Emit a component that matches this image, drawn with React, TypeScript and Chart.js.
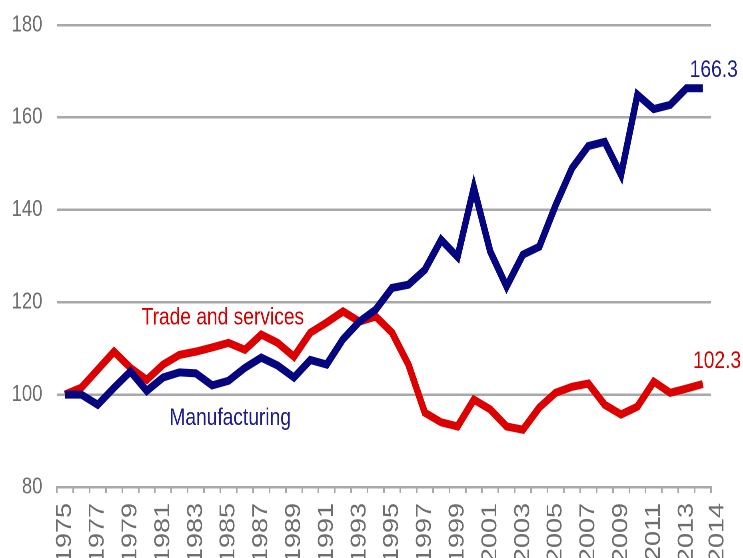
import React, { useEffect, useRef } from 'react';
import { Chart, registerables } from 'chart.js';

Chart.register(...registerables);

// ---- data ----
const years = [
  '1975', '1976', '1977', '1978', '1979', '1980', '1981', '1982', '1983', '1984',
  '1985', '1986', '1987', '1988', '1989', '1990', '1991', '1992', '1993', '1994',
  '1995', '1996', '1997', '1998', '1999', '2000', '2001', '2002', '2003', '2004',
  '2005', '2006', '2007', '2008', '2009', '2010', '2011', '2012', '2013', '2014',
];

const manufacturing = [
  100, 100, 97.8, 101.5, 105, 100.8, 103.7, 104.8, 104.6, 102,
  103, 105.8, 108, 106.3, 103.7, 107.5, 106.5, 112, 115.8, 118.4,
  123.1, 123.8, 127, 133.5, 129.8, 144.8, 131, 123.4, 130.3, 132,
  141, 149, 153.8, 154.7, 147.6, 164.9, 161.8, 162.7, 166.3, 166.3,
];

const tradeServices = [
  100, 101.5, 105.4, 109.3, 105.8, 103.2, 106.5, 108.6, 109.3, 110.2,
  111.2, 109.7, 113, 111.2, 108.2, 113.4, 115.6, 118, 115.8, 116.9,
  113.4, 106.5, 96.1, 94, 93.1, 98.9, 96.8, 93.1, 92.4, 97.2,
  100.4, 101.7, 102.4, 97.8, 95.7, 97.4, 102.8, 100.4, 101.3, 102.3,
];

const seriesNames = ['Manufacturing', 'Trade and services'];
const endLabels = ['166.3', '102.3'];
const yMin = 80;
const yMax = 180;
const yStep = 20;

// ---- style ----
const BLUE = '#050580';
const RED = '#dd0000';
const BLUE_TEXT = '#1c1c8e';
const RED_TEXT = '#d40000';
const GRID = '#a8a8a8';
const TICK_TEXT = '#6e6e6e';
const FONT = '"Liberation Sans", Arial, Helvetica, sans-serif';

// chart is drawn wider and squeezed horizontally, like the reference
const W = 929;
const H = 558;
const DISPLAY_W = 743;

const annotations = [
  { text: seriesNames[1], index: 9.65, value: 116.6, color: RED_TEXT, align: 'center' as CanvasTextAlign },
  { text: seriesNames[0], index: 10.1, value: 94.8, color: BLUE_TEXT, align: 'center' as CanvasTextAlign },
  { text: endLabels[0], index: 38.2, value: 170.2, color: BLUE_TEXT, align: 'left' as CanvasTextAlign },
  { text: endLabels[1], index: 38.4, value: 107.2, color: RED_TEXT, align: 'left' as CanvasTextAlign },
];

const annotationPlugin = {
  id: 'annotationsText',
  afterDatasetsDraw(chart: any) {
    const { ctx, scales } = chart;
    const xs = scales.x;
    const ys = scales.y;
    ctx.save();
    ctx.font = `24px ${FONT}`;
    ctx.textBaseline = 'middle';
    annotations.forEach((a) => {
      ctx.fillStyle = a.color;
      ctx.textAlign = a.align;
      ctx.fillText(a.text, xs.getPixelForValue(a.index), ys.getPixelForValue(a.value));
    });
    // last year label sits at the axis end, drawn like the other tick labels
    ctx.fillStyle = TICK_TEXT;
    ctx.font = `27px ${FONT}`;
    ctx.translate(xs.right + 8, xs.top + 16);
    ctx.rotate(-Math.PI / 2);
    ctx.textAlign = 'right';
    ctx.textBaseline = 'middle';
    ctx.fillText(years[years.length - 1], 0, 0);
    ctx.restore();
  },
};

export default function App() {
  const canvasRef = useRef<HTMLCanvasElement | null>(null);

  useEffect(() => {
    document.body.style.margin = '0';
    const canvas = canvasRef.current;
    if (!canvas) return;
    const chart = new Chart(canvas, {
      type: 'line',
      data: {
        labels: years,
        datasets: [
          {
            label: seriesNames[0],
            data: manufacturing,
            borderColor: BLUE,
            backgroundColor: BLUE,
            borderWidth: 8,
            pointRadius: 0,
            tension: 0,
            borderJoinStyle: 'miter',
            borderCapStyle: 'butt',
            order: 0,
          },
          {
            label: seriesNames[1],
            data: tradeServices,
            borderColor: RED,
            backgroundColor: RED,
            borderWidth: 8,
            pointRadius: 0,
            tension: 0,
            borderJoinStyle: 'miter',
            borderCapStyle: 'butt',
            order: 1,
          },
        ],
      },
      options: {
        responsive: false,
        animation: false,
        devicePixelRatio: 2,
        layout: { padding: { top: 25, right: 40, left: 0, bottom: 0 } },
        plugins: {
          legend: { display: false },
          tooltip: { enabled: false },
          title: { display: false },
        },
        scales: {
          x: {
            type: 'category',
            offset: true,
            grid: {
              offset: true,
              drawOnChartArea: false,
              drawTicks: true,
              tickLength: 6,
              color: GRID,
              lineWidth: 2,
            },
            border: { display: true, color: GRID, width: 2.5 },
            ticks: {
              autoSkip: false,
              minRotation: 90,
              maxRotation: 90,
              padding: 10,
              color: TICK_TEXT,
              font: { family: FONT, size: 27 },
              callback: (_v: any, i: number) => (i % 2 === 0 && i < years.length - 1 ? years[i] : ''),
            },
            afterFit: (s: any) => {
              s.height = 71;
              s.paddingLeft = 0;
              s.paddingRight = 0;
              s.paddingTop = 0;
              s.paddingBottom = 0;
            },
          },
          y: {
            min: yMin,
            max: yMax,
            grid: {
              drawTicks: false,
              color: GRID,
              lineWidth: 2.5,
            },
            border: { display: false },
            ticks: {
              stepSize: yStep,
              padding: 18,
              color: TICK_TEXT,
              font: { family: FONT, size: 23 },
            },
            afterFit: (s: any) => {
              s.width = 71;
              s.paddingTop = 0;
              s.paddingBottom = 0;
              s.paddingLeft = 0;
              s.paddingRight = 0;
            },
          },
        },
      },
      plugins: [annotationPlugin],
    });
    return () => chart.destroy();
  }, []);

  return (
    <div style={{ width: DISPLAY_W, height: H, overflow: 'hidden', background: '#fff' }}>
      <canvas
        ref={canvasRef}
        width={W}
        height={H}
        style={{ width: `${DISPLAY_W}px`, height: `${H}px`, display: 'block' }}
      />
    </div>
  );
}
